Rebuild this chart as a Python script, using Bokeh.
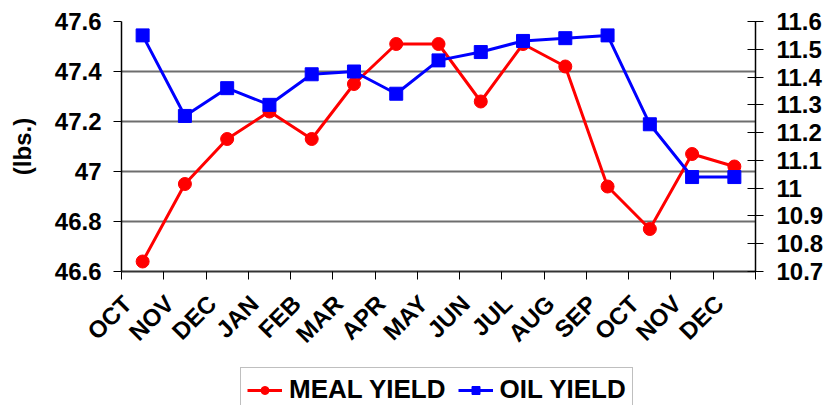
import math
from bokeh.plotting import figure
from bokeh.layouts import column
from bokeh.models import Range1d, LinearAxis, FixedTicker, Legend, LegendItem
from bokeh.embed import file_html
from bokeh.resources import INLINE

months = ["OCT", "NOV", "DEC", "JAN", "FEB", "MAR", "APR", "MAY", "JUN",
          "JUL", "AUG", "SEP", "OCT", "NOV", "DEC"]
meal_yield = [46.64, 46.95, 47.13, 47.24, 47.13, 47.35, 47.51, 47.51, 47.28,
              47.51, 47.42, 46.94, 46.77, 47.07, 47.02]
oil_yield = [11.55, 11.26, 11.36, 11.30, 11.41, 11.42, 11.34, 11.46, 11.49,
             11.53, 11.54, 11.55, 11.23, 11.04, 11.04]
left_ticks = [46.6, 46.8, 47, 47.2, 47.4, 47.6]
left_labels = ["46.6", "46.8", "47", "47.2", "47.4", "47.6"]
right_ticks = [10.7, 10.8, 10.9, 11, 11.1, 11.2, 11.3, 11.4, 11.5, 11.6]
right_labels = ["10.7", "10.8", "10.9", "11", "11.1", "11.2", "11.3", "11.4", "11.5", "11.6"]

FONT = "Liberation Sans"
RED = "#FF0000"
BLUE = "#0000FF"
xs = [i + 0.5 for i in range(len(months))]

p = figure(width=830, height=366, x_range=Range1d(0, len(months)),
           y_range=Range1d(46.6, 47.6), output_backend="svg",
           toolbar_location=None, min_border_left=121, min_border_right=75,
           min_border_top=21, min_border_bottom=95)
p.extra_y_ranges = {"oil": Range1d(10.7, 11.6)}
p.outline_line_color = None
p.background_fill_color = "white"
p.border_fill_color = "white"

# grid
p.xgrid.visible = False
p.ygrid.ticker = FixedTicker(ticks=left_ticks)
p.ygrid.grid_line_color = "#6e6e6e"
p.ygrid.grid_line_width = 2

# left axis
ya = p.yaxis[0]
ya.ticker = FixedTicker(ticks=left_ticks)
ya.major_label_overrides = dict(zip(left_ticks, left_labels))
ya.major_label_text_font = FONT
ya.major_label_text_font_style = "bold"
ya.major_label_text_font_size = "24px"
ya.major_label_text_color = "black"
ya.major_tick_out = 8
ya.major_tick_in = 0
ya.minor_tick_out = 0
ya.minor_tick_in = 0
ya.major_label_standoff = 12
ya.axis_line_color = "black"
ya.axis_line_width = 1.5
ya.major_tick_line_color = "black"
ya.axis_label = "(lbs.)"
ya.axis_label_text_font = FONT
ya.axis_label_text_font_style = "bold"
ya.axis_label_text_font_size = "24px"
ya.axis_label_text_color = "black"
ya.axis_label_standoff = 16

# right axis
ra = LinearAxis(y_range_name="oil", ticker=FixedTicker(ticks=right_ticks))
ra.major_label_overrides = dict(zip(right_ticks, right_labels))
ra.major_label_text_font = FONT
ra.major_label_text_font_style = "bold"
ra.major_label_text_font_size = "24px"
ra.major_label_text_color = "black"
ra.major_tick_out = 8
ra.major_tick_in = 8
ra.minor_tick_out = 0
ra.minor_tick_in = 0
ra.major_label_standoff = 13
ra.axis_line_color = "black"
ra.axis_line_width = 1.5
ra.major_tick_line_color = "black"
p.add_layout(ra, "right")

# bottom axis: tick marks at category boundaries
xa = p.xaxis[0]
boundaries = list(range(len(months) + 1))
xa.ticker = FixedTicker(ticks=boundaries)
xa.major_label_overrides = {b: "" for b in boundaries}
xa.major_label_text_font_size = "1px"
xa.major_label_standoff = 0
xa.major_tick_out = 8
xa.major_tick_in = 0
xa.minor_tick_out = 0
xa.minor_tick_in = 0
xa.axis_line_color = "#333333"
xa.axis_line_width = 2
xa.major_tick_line_color = "black"

# bottom axis: rotated month labels, slightly right of each boundary
label_pos = [i + 0.14 for i in range(len(months))]
xl = LinearAxis(ticker=FixedTicker(ticks=label_pos))
xl.major_label_overrides = dict(zip(label_pos, months))
xl.major_label_orientation = math.pi / 4
xl.major_label_text_font = FONT
xl.major_label_text_font_style = "bold"
xl.major_label_text_font_size = "24px"
xl.major_label_text_color = "black"
xl.major_tick_out = 0
xl.major_tick_in = 0
xl.minor_tick_out = 0
xl.minor_tick_in = 0
xl.major_label_standoff = 20
xl.axis_line_color = None
p.add_layout(xl, "below")

# series
p.line(xs, meal_yield, line_color=RED, line_width=3)
p.scatter(xs, meal_yield, marker="circle", size=13, fill_color=RED, line_color=RED)
p.line(xs, oil_yield, line_color=BLUE, line_width=3, y_range_name="oil")
p.scatter(xs, oil_yield, marker="square", size=13, fill_color=BLUE,
          line_color=BLUE, y_range_name="oil")

# legend strip (separate figure below the chart; its ranges keep the
# series themselves out of view so only the legend shows)
lf = figure(width=830, height=39, x_range=Range1d(-2, -1), y_range=Range1d(0, 1),
            output_backend="svg", toolbar_location=None, min_border=0,
            x_axis_location=None, y_axis_location=None)
lf.outline_line_color = None
lf.xgrid.visible = False
lf.ygrid.visible = False
l1 = lf.line(xs, meal_yield, line_color=RED, line_width=3)
c1 = lf.scatter(xs, meal_yield, marker="circle", size=13, fill_color=RED, line_color=RED)
l2 = lf.line(xs, oil_yield, line_color=BLUE, line_width=3)
c2 = lf.scatter(xs, oil_yield, marker="square", size=13, fill_color=BLUE, line_color=BLUE)

legend = Legend(items=[LegendItem(label="MEAL YIELD", renderers=[l1, c1]),
                       LegendItem(label="OIL YIELD", renderers=[l2, c2])],
                location=(119, -7), orientation="horizontal")
legend.label_text_font = FONT
legend.label_text_font_style = "bold"
legend.label_text_font_size = "26px"
legend.label_text_color = "black"
legend.glyph_width = 35
legend.glyph_height = 20
legend.label_height = 20
legend.label_standoff = 7
legend.spacing = 12
legend.padding = 6
legend.margin = 0
legend.border_line_color = "#808080"
legend.border_line_width = 1.5
legend.background_fill_color = "white"
legend.background_fill_alpha = 1
lf.add_layout(legend)

layout = column(p, lf, spacing=0)
open("out.html", "w").write(file_html(layout, INLINE))
